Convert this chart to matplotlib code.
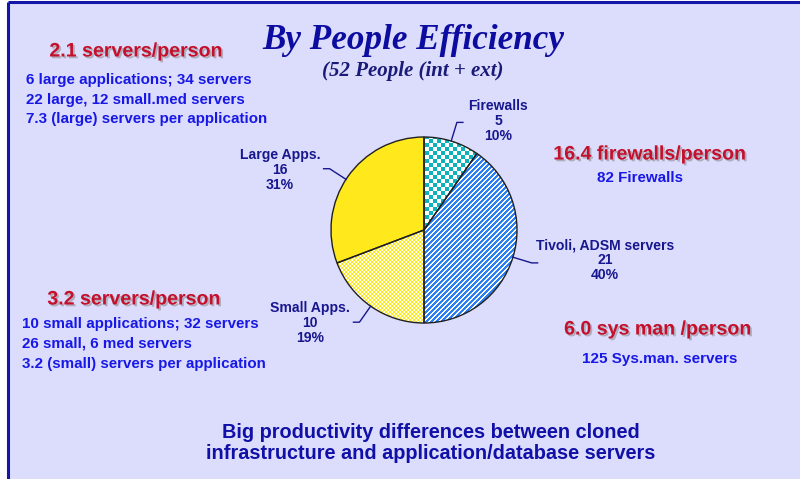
import numpy as np
import matplotlib
matplotlib.use("Agg")
import matplotlib.pyplot as plt
import matplotlib.patheffects as pe
from matplotlib.patches import Rectangle, Wedge

# ---------------- data ----------------
categories = ["Firewalls", "Tivoli, ADSM servers", "Small Apps.", "Large Apps."]
people = [5, 21, 10, 16]
percents = ["10%", "40%", "19%", "31%"]

title = "By People Efficiency"
subtitle = "(52 People (int + ext)"

note_large_head = "2.1 servers/person"
note_large_lines = ["6 large applications; 34 servers",
                    "22 large, 12 small.med servers",
                    "7.3 (large) servers per application"]
note_small_head = "3.2 servers/person"
note_small_lines = ["10 small applications; 32 servers",
                    "26 small, 6 med servers",
                    "3.2 (small) servers per application"]
note_fw_head = "16.4 firewalls/person"
note_fw_line = "82 Firewalls"
note_sys_head = "6.0 sys man /person"
note_sys_line = "125 Sys.man. servers"
bottom_text = "Big productivity differences between cloned\ninfrastructure and application/database servers"

# ---------------- style ----------------
W, H = 800, 479
BG = "#DCDCFD"
FRAME = "#1414A8"
NAVY = "#17178E"
RED = "#C4102C"
BLUE = "#1818E6"
SANS = ["Liberation Sans", "DejaVu Sans"]
SERIF = ["Liberation Serif", "DejaVu Serif"]

fig = plt.figure(figsize=(W / 100, H / 100), dpi=100)
fig.patch.set_facecolor("white")
ax = fig.add_axes([0, 0, 1, 1])

def Y(y_img):
    return H - y_img

# pie geometry (in pixel data units)
cx, cy, R = 424, Y(230), 93

wedges, _ = ax.pie(people, startangle=90, counterclock=False, radius=R,
                   center=(cx, cy), colors=["none"] * 4,
                   wedgeprops=dict(linewidth=0))
ax.set_xlim(0, W)
ax.set_ylim(0, H)
ax.set_aspect("auto")
ax.axis("off")

# background panel with frame
ax.add_patch(Rectangle((8, -5), W, H + 3, facecolor=BG, edgecolor="none", zorder=0))
ax.plot([8, 8], [-5, Y(1.5)], color=FRAME, lw=2.2, zorder=1, solid_capstyle="butt")
ax.plot([8, W + 5], [Y(1.5), Y(1.5)], color=FRAME, lw=2.2, zorder=1, solid_capstyle="butt")

# ---------------- textures ----------------
n = 2 * R + 4
ys, xs = np.mgrid[0:n, 0:n]
def rgb(h):
    h = h.lstrip("#")
    return np.array([int(h[i:i + 2], 16) / 255 for i in (0, 2, 4)])

white = np.ones(3)
tex = []
# Firewalls: teal checkerboard, 4px
m = ((xs // 4 + ys // 4) % 2 == 0)
tex.append(np.where(m[..., None], rgb("#0EB2BA"), white))
# Tivoli: blue with white diagonal stripes
m = ((xs + ys) % 5 < 2)
tex.append(np.where(m[..., None], white, rgb("#2A80F4")))
# Small apps: yellow / white fine checker
m = ((xs // 2 + ys // 2) % 2 == 0)
tex.append(np.where(m[..., None], rgb("#FFEA10"), white))
# Large apps: solid yellow
tex.append(np.ones((n, n, 3)) * rgb("#FFE81C"))

ext = (cx - n / 2, cx + n / 2, cy - n / 2, cy + n / 2)
for w, t in zip(wedges, tex):
    im = ax.imshow(t, extent=ext, origin="upper", interpolation="nearest", zorder=2)
    im.set_clip_path(w)
    outline = Wedge(w.center, w.r, w.theta1, w.theta2, facecolor="none",
                    edgecolor="#202020", lw=1.0, zorder=3)
    ax.add_patch(outline)
ax.set_xlim(0, W)
ax.set_ylim(0, H)

# ---------------- pie labels with leader lines ----------------
leader_angles = [73, -17, -125, 147]
label_pos = [(498, 121), (605, 260), (310, 323), (280, 170)]
for cat, val, pct, ang, (lx, ly) in zip(categories, people, percents, leader_angles, label_pos):
    a = np.deg2rad(ang)
    x0, y0 = cx + R * np.cos(a), cy + R * np.sin(a)
    x1, y1 = cx + 1.21 * R * np.cos(a), cy + 1.21 * R * np.sin(a)
    dx = 6 if np.cos(a) > 0 else -6
    ax.plot([x0, x1, x1 + dx], [y0, y1, y1], color=NAVY, lw=1.0, zorder=4)
    ax.text(lx, Y(ly), f"{cat}\n{val}\n{pct}", ha="center", va="center",
            fontsize=10.1, fontweight="bold", color=NAVY, family=SANS,
            linespacing=1.08, zorder=5)

# ---------------- titles ----------------
ax.text(413, Y(40), title, ha="center", va="center", fontsize=25.3,
        fontweight="bold", style="italic", color="#0C0CA0", family=SERIF)
ax.text(413, Y(71), subtitle, ha="center", va="center", fontsize=15,
        fontweight="bold", style="italic", color="#1A1A78", family=SERIF)

shadow = [pe.withSimplePatchShadow(offset=(1.3, -1.3), shadow_rgbFace="#888888", alpha=0.55)]

def red(x, y, s):
    ax.text(x, Y(y), s, ha="center", va="center", fontsize=14.1, fontweight="bold",
            color=RED, family=SANS, path_effects=shadow, zorder=5)

def blue(x, y, s, ha="left", fs=10.9):
    ax.text(x, Y(y), s, ha=ha, va="center", fontsize=fs, fontweight="bold",
            color=BLUE, family=SANS, zorder=5)

red(136, 51, note_large_head)
for i, s in enumerate(note_large_lines):
    blue(26, 80 + 19.5 * i, s)

red(134, 299, note_small_head)
for i, s in enumerate(note_small_lines):
    blue(22, 324 + 20 * i, s)

red(650, 154, note_fw_head)
blue(640, 178, note_fw_line, ha="center", fs=10.9)

red(658, 329, note_sys_head)
blue(660, 359, note_sys_line, ha="center", fs=11)

ax.text(431, Y(443), bottom_text, ha="center", va="center", fontsize=14.3,
        fontweight="bold", color="#1010A8", family=SANS, linespacing=1.15, zorder=5)

fig.savefig("out.png", dpi=100, facecolor=fig.get_facecolor())
